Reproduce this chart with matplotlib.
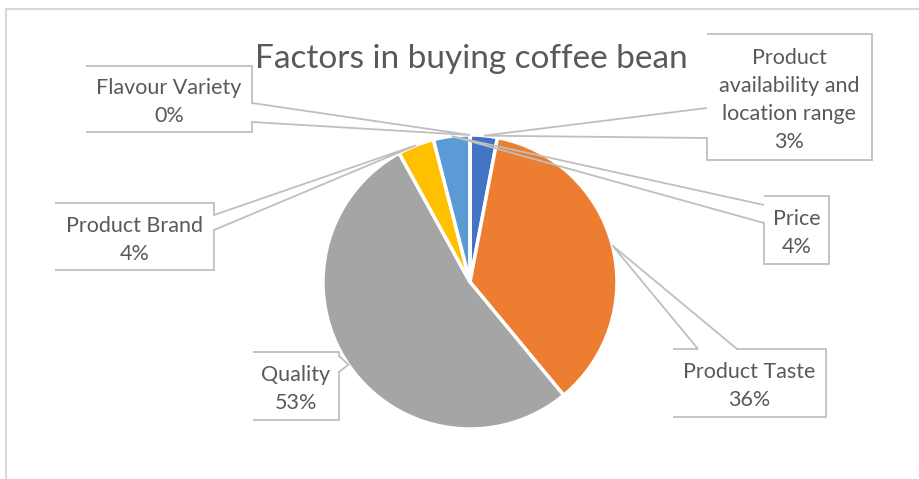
import numpy as np
import matplotlib.pyplot as plt
from matplotlib.patches import Polygon, Rectangle
from matplotlib.lines import Line2D

plt.rcParams['font.family'] = ['Lato', 'DejaVu Sans']

# survey shares, in the order the slices run clockwise from 12 o'clock
labels = ["Product\navailability and\nlocation range", "Product Taste", "Quality",
          "Product Brand", "Price", "Flavour Variety"]
values = [3, 36, 53, 4, 4, 0]
colors = ["#4472C4", "#ED7D31", "#A5A5A5", "#FFC000", "#5B9BD5", "#70AD47"]

W, H = 920, 479
cx, cy, R = 470, 282, 147   # pie centre and radius, pixels from top-left

# callout boxes: (x0, y0, x1, y1), side with the pointer, pointer ends on that side
boxes = [
    ((707, 34, 872, 160), "left", 108, 138),
    ((673, 349, 826, 417), "top", 698, 737),
    ((253, 352, 339, 420), "right", 356, 372),
    ((55, 203, 214, 270), "right", 215, 230),
    ((764, 196, 829, 264), "left", 205, 223),
    ((86, 66, 252, 132), "right", 103, 122),
]

fig = plt.figure(figsize=(W / 100, H / 100), dpi=100)
ax = fig.add_axes([0, 0, 1, 1])

def fy(y):
    return H - y

wedges, _ = ax.pie(values, colors=colors, startangle=90, counterclock=False,
                   center=(cx, fy(cy)), radius=R,
                   wedgeprops=dict(edgecolor="white", linewidth=2.5))
ax.set_xlim(0, W)
ax.set_ylim(0, H)
ax.set_aspect("auto")
ax.axis("off")

total = sum(values)
edge = "#BFBFBF"
txt = "#595959"
for w, lab, v, (box, side, p1, p2) in zip(wedges, labels, values, boxes):
    ang = np.deg2rad((w.theta1 + w.theta2) / 2)
    anchor = (cx + R * np.cos(ang), fy(cy) + R * np.sin(ang))
    x0, y0, x1, y1 = box
    X0, X1, Y0, Y1 = x0, x1, fy(y0), fy(y1)
    if side == "right":
        pts = [(X0, Y0), (X1, Y0), (X1, fy(p1)), anchor, (X1, fy(p2)), (X1, Y1), (X0, Y1), (X0, Y0)]
    elif side == "left":
        pts = [(X0, Y0), (X1, Y0), (X1, Y1), (X0, Y1), (X0, fy(p2)), anchor, (X0, fy(p1)), (X0, Y0)]
    else:
        pts = [(X0, Y0), (p1, Y0), anchor, (p2, Y0), (X1, Y0), (X1, Y1), (X0, Y1), (X0, Y0)]
    ax.add_patch(Rectangle((X0, Y1), X1 - X0, Y0 - Y1, facecolor="white",
                           edgecolor="none", zorder=3))
    ax.add_patch(Polygon(pts, closed=False, fill=False, edgecolor=edge,
                         linewidth=1.3, zorder=4))
    pct = f"{v / total * 100:.0f}%"
    ax.text((X0 + X1) / 2, (Y0 + Y1) / 2 - 3, f"{lab}\n{pct}", ha="center", va="center",
            fontsize=15.5, color=txt, linespacing=1.5, zorder=5)

ax.text(471, fy(59), "Factors in buying coffee bean", ha="center", va="center",
        fontsize=24, color=txt, zorder=2)

# chart area border (only top and left edges fall inside the image)
fig.add_artist(Line2D([6 / W, 6 / W], [0, 1 - 9 / H], color="#D9D9D9", linewidth=1.5))
fig.add_artist(Line2D([6 / W, 1], [1 - 9 / H, 1 - 9 / H], color="#D9D9D9", linewidth=1.5))

fig.savefig("out.png", dpi=100)
